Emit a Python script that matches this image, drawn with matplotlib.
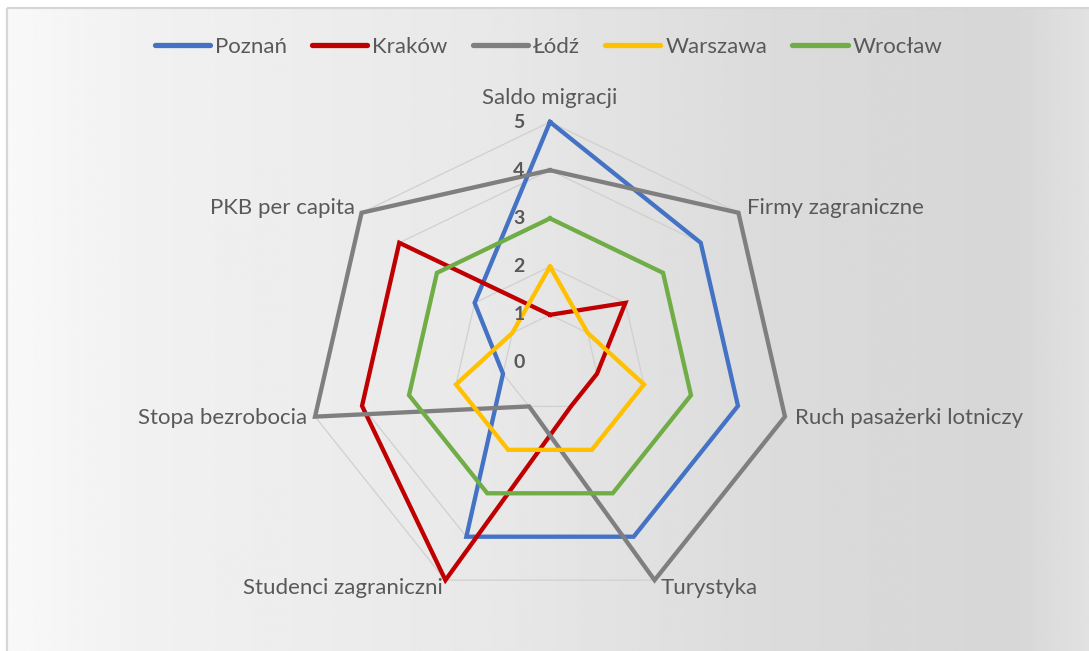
import numpy as np
import matplotlib
matplotlib.use("Agg")
import matplotlib.pyplot as plt
from matplotlib.lines import Line2D
from matplotlib.patches import Rectangle

plt.rcParams['font.family'] = ['Lato', 'DejaVu Sans']

categories = ["Saldo migracji", "Firmy zagraniczne", "Ruch pasażerki lotniczy", "Turystyka",
              "Studenci zagraniczni", "Stopa bezrobocia", "PKB per capita"]
poznan = [5, 4, 4, 4, 4, 1, 2]
krakow = [1, 2, 1, 1, 5, 4, 4]
lodz = [4, 5, 5, 5, 1, 5, 5]
warszawa = [2, 1, 2, 2, 2, 2, 1]
wroclaw = [3, 3, 3, 3, 3, 3, 3]
series_names = ["Poznań", "Kraków", "Łódź", "Warszawa", "Wrocław"]
series = [poznan, krakow, lodz, warszawa, wroclaw]
colors = ["#4472C4", "#C00000", "#7F7F7F", "#FFC000", "#70AD47"]
ticks = [0, 1, 2, 3, 4, 5]

W, H = 1089, 651
fig = plt.figure(figsize=(W / 100, H / 100), dpi=100)

# background gradient + frame
bg = fig.add_axes([0, 0, 1, 1])
bg.set_xlim(0, W)
bg.set_ylim(H, 0)
bg.axis('off')
xs = np.linspace(0, 1, 400)
stops = [(0, 0.975), (0.12, 0.945), (0.45, 0.91), (0.7, 0.86), (0.93, 0.84), (1.0, 0.885)]
g = np.interp(xs, [s[0] for s in stops], [s[1] for s in stops])
img = np.tile(g, (2, 1))
bg.imshow(img, cmap='gray', vmin=0, vmax=1, extent=[7, W, H, 8], aspect='auto', interpolation='bilinear')
bg.add_patch(Rectangle((7, 8), W, H, fill=False, edgecolor='#d6d6d6', linewidth=1.6))

# radar
cx, cy, R = 550, 363, 241
ax = fig.add_axes([(cx - R) / W, 1 - (cy + R) / H, 2 * R / W, 2 * R / H], projection='polar')
ax.set_theta_zero_location('N')
ax.set_theta_direction(-1)
ax.set_ylim(0, 5)
ax.patch.set_alpha(0)
ax.spines['polar'].set_visible(False)
ax.grid(False)
ax.set_xticks([])
ax.set_yticks([])

n = len(categories)
theta = np.arange(n) * 2 * np.pi / n
tc = np.append(theta, theta[0])

for t in ticks[1:]:
    ax.plot(tc, [t] * (n + 1), color='#d0d0d0', lw=0.9, clip_on=False, zorder=1)

for name, vals, c in zip(series_names, series, colors):
    ax.plot(tc, vals + vals[:1], color=c, lw=3.1, clip_on=False, zorder=3,
            solid_joinstyle='miter')

for t in ticks:
    ax.annotate(str(t), (0, t), xytext=(-31, 0), textcoords='offset pixels',
                ha='center', va='center', fontsize=14, fontweight='bold',
                color='#595959', zorder=4, annotation_clip=False)

offs = [(0, 24, 'center'), (9, 5, 'left'), (10, -1, 'left'), (6, -8, 'left'),
        (-3, -8, 'right'), (-8, -1, 'right'), (-7, 5, 'right')]
for lab, t, (dx, dy, ha) in zip(categories, theta, offs):
    va = 'top' if dy < -5 else 'center'
    if va == 'top':
        dy += 10
    ax.annotate(lab, (t, 5), xytext=(dx, dy), textcoords='offset pixels',
                ha=ha, va=va, fontsize=16, color='#595959', annotation_clip=False)

handles = [Line2D([], [], color=c, lw=3.8, solid_capstyle='round') for c in colors]
fig.legend(handles, series_names, loc='center', bbox_to_anchor=(0.5 + 4 / W, 1 - 47 / H), ncol=5,
           frameon=False, fontsize=16, handlelength=2.5, handletextpad=0.22,
           columnspacing=1.12, labelcolor='#595959')

fig.savefig("out.png", dpi=100)
